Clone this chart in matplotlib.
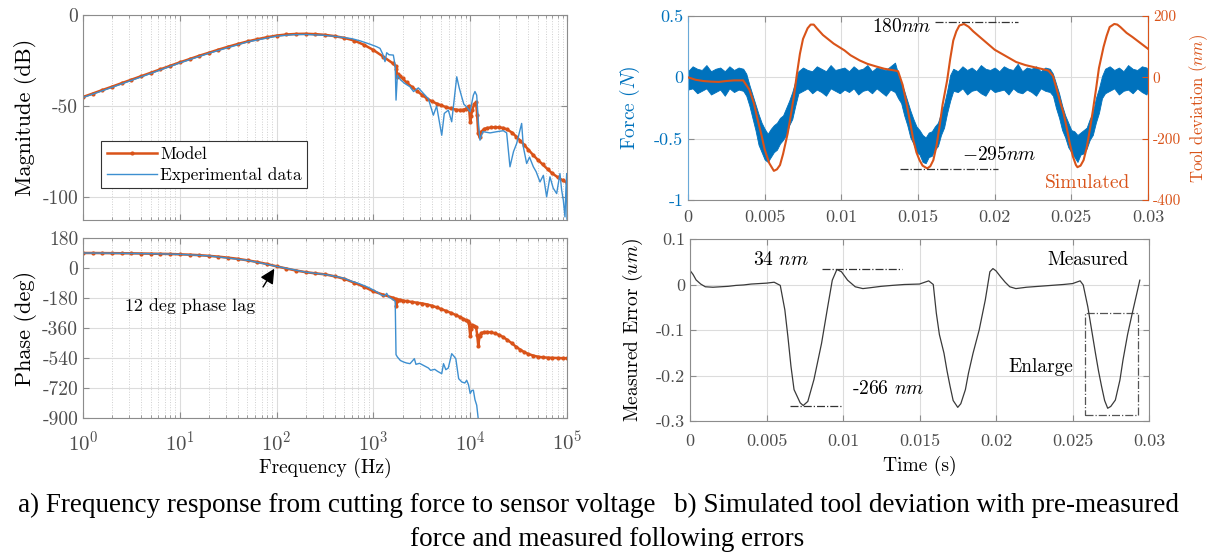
import matplotlib
matplotlib.use('Agg')

import matplotlib.pyplot as plt
from matplotlib.patches import Rectangle

# ---- colours / fonts
blue = '#0072BD'
blue_light = '#3d8fd0'
orange = '#D95319'
grey = '#4d4d4d'
spine_grey = '#8c8c8c'

plt.rcParams['font.family'] = 'cmr10'
plt.rcParams['mathtext.fontset'] = 'cm'
plt.rcParams['axes.unicode_minus'] = False

# ---- a) bode data: model (orange) and experiment (blue)
model_f = [1, 1.26, 1.58, 2, 2.51, 3.16, 3.98, 5.01, 6.31, 7.94,
           10, 12.6, 15.8, 20, 25.1, 31.6, 39.8, 50.1, 63.1, 79.4,
           100, 126, 158, 200, 251, 316, 398, 501, 631, 794,
           1000, 1259, 1585,
           1700, 1730, 1760, 1800, 1900, 2000, 2200, 2500, 2800, 3200,
           3600, 4000, 4500, 5000, 5600, 6300, 7100, 7900, 8500, 9000,
           9400, 9700, 10000, 10200, 10500, 11000, 11500, 11800, 12100, 12500,
           13000, 14000, 15000, 16500, 18000, 20000, 22000, 24000, 27000, 30000,
           33000, 36000, 40000, 45000, 50000, 56000, 63000, 70000, 80000, 90000,
           100000]
model_mag = [-45.0, -43.1, -41.2, -39.3, -37.4, -35.5, -33.6, -31.7, -29.8, -27.9,
             -26.0, -24.2, -22.4, -20.7, -19.0, -17.4, -15.9, -14.5, -13.3, -12.2,
             -11.3, -10.7, -10.4, -10.3, -10.5, -10.9, -11.6, -12.6, -14.0, -16.3,
             -19.2, -22.8, -26.5,
             -28.0, -29.5, -34.0, -32.5, -33.5, -34.8, -37.0, -39.5, -41.5, -44.0,
             -46.0, -47.3, -48.6, -49.6, -50.5, -51.3, -51.9, -52.2, -52.0, -51.5,
             -50.5, -50.0, -58.5, -55.5, -52.0, -49.0, -48.0, -55.0, -65.0, -67.0,
             -64.0, -62.5, -62.0, -61.7, -61.6, -61.7, -62.0, -62.8, -64.5, -66.8,
             -69.0, -71.2, -74.0, -77.0, -79.5, -82.0, -84.6, -86.8, -89.0, -90.7,
             -92.0]
model_phase = [90, 90, 89.5, 89, 88.5, 88, 87, 86, 85, 84,
               82, 80, 77, 73, 68, 62, 55, 46, 36, 24,
               10, -3, -15, -25, -32, -38, -50, -65, -88, -112,
               -140, -160, -178,
               -185, -228, -195, -190, -192, -195, -199, -204, -208, -213,
               -219, -226, -236, -246, -257, -269, -282, -295, -305, -313,
               -320, -330, -405, -365, -342, -348, -355, -400, -465, -410,
               -390, -385, -384, -386, -392, -402, -415, -430, -452, -474,
               -490, -504, -516, -526, -532, -536, -538, -539, -540, -541,
               -541]

exp_f = [1, 2, 5, 10, 20, 50, 100, 150, 200, 300, 400, 500, 600, 730, 920,
         1080, 1170, 1250, 1318, 1372, 1450, 1607, 1680, 1713, 1770, 1900,
         2100, 2390, 2600, 2913, 3280, 3700, 4160, 4500, 5080, 5400, 5940,
         6440, 7260, 7700, 8170, 8600, 9200, 9960, 10780, 11200, 11670, 12200,
         12620, 13500, 16020, 19000, 21990, 23800, 25760, 28000, 30200, 34000,
         35400, 38300, 41000, 44900, 48000, 52600, 57000, 61600, 66700, 72000,
         78200, 84600, 88000, 91600, 95300, 97500, 99300, 100000]
exp_mag = [-45.3, -39.7, -32.1, -26.3, -21.0, -14.8, -11.6, -10.8, -10.7, -11.1,
           -11.7, -12.4, -13.0, -14.2, -16.0, -17.4, -18.3, -21.5, -25.6, -20.7,
           -21.8, -22.0, -28.0, -46.7, -33.0, -35.5, -37.5, -39.4, -42.0, -40.0,
           -43.0, -46.0, -55.0, -50.0, -66.0, -54.0, -52.2, -58.6, -33.9, -40.0,
           -44.9, -49.0, -50.4, -53.1, -44.0, -42.0, -44.0, -60.0, -68.7, -64.0,
           -64.7, -64.0, -63.5, -64.7, -83.3, -75.0, -70.5, -59.5, -72.4, -81.5,
           -78.0, -83.3, -86.0, -91.6, -88.0, -99.8, -88.8, -95.0, -98.0, -87.0,
           -96.0, -101.6, -110.8, -95.0, -87.0, -112.0]

exp_pf = [1, 2, 5, 10, 20, 50, 100, 200, 300, 400, 500, 600, 700, 900, 1100,
          1200, 1300, 1372, 1450, 1600, 1680, 1713, 1770, 1900, 2050, 2200,
          2390, 2650, 2750, 3000, 3280, 3700, 3900, 4300, 4600, 5080, 5300,
          5600, 5940, 6440, 6800, 7100, 7600, 8200, 8800, 9200, 9600, 10000,
          10400, 10780, 11200, 11670, 12100, 12400]
exp_phase = [90, 89, 86, 82, 73, 46, 10, -25, -37, -49, -62, -80, -92, -118, -145,
             -162, -168, -152, -175, -190, -200, -520, -534, -555, -564, -570,
             -574, -544, -578, -572, -584, -600, -614, -608, -620, -634, -574,
             -610, -600, -514, -530, -544, -664, -684, -690, -674, -700, -753,
             -735, -733, -790, -823, -903, -1000]

freq_ticks = [1, 10, 100, 1000, 10000, 100000]
mag_ticks = [0, -50, -100]
mag_labels = ['0', '-50', '-100']
phase_ticks = [180, 0, -180, -360, -540, -720, -900]
phase_labels = ['180', '0', '-180', '-360', '-540', '-720', '-900']

# ---- b) time data (force band read as upper / lower envelope)
force_t = [0.0000, 0.0003, 0.0006, 0.0009, 0.0012, 0.0015, 0.0018, 0.0021, 0.0024, 0.0027,
           0.0030, 0.0033, 0.0036, 0.0038, 0.0040, 0.0042, 0.0044, 0.0046, 0.0048, 0.0050,
           0.0052, 0.0054, 0.0056, 0.0058, 0.0060, 0.0062, 0.0064, 0.0066, 0.0068, 0.0070,
           0.0072, 0.0075, 0.0078, 0.0081, 0.0084, 0.0087, 0.0090, 0.0093, 0.0096, 0.0099,
           0.0102, 0.0105, 0.0108, 0.0111, 0.0114, 0.0117, 0.0120, 0.0123, 0.0126, 0.0129,
           0.0132, 0.0135, 0.0137, 0.0139, 0.0141, 0.0143, 0.0145, 0.0147, 0.0149, 0.0151,
           0.0153, 0.0155, 0.0157, 0.0159, 0.0161, 0.0163, 0.0165, 0.0167, 0.0169, 0.0171,
           0.0173, 0.0176, 0.0179, 0.0182, 0.0185, 0.0188, 0.0191, 0.0194, 0.0197, 0.0200,
           0.0203, 0.0206, 0.0209, 0.0212, 0.0215, 0.0218, 0.0221, 0.0224, 0.0227, 0.0230,
           0.0233, 0.0236, 0.0238, 0.0240, 0.0242, 0.0244, 0.0246, 0.0248, 0.0250, 0.0252,
           0.0254, 0.0256, 0.0258, 0.0260, 0.0262, 0.0264, 0.0266, 0.0268, 0.0270, 0.0272,
           0.0275, 0.0278, 0.0281, 0.0284, 0.0287, 0.0290, 0.0293, 0.0296, 0.0299, 0.0300]
force_hi = [0.05, 0.09, 0.07, 0.06, 0.10, 0.05, 0.07, 0.08, 0.05, 0.09,
            0.06, 0.08, 0.07, 0.03, -0.06, -0.14, -0.22, -0.30, -0.37, -0.42,
            -0.46, -0.42, -0.39, -0.37, -0.33, -0.31, -0.25, -0.19, -0.12, -0.03,
            0.05, 0.08, 0.06, 0.05, 0.09, 0.07, 0.05, 0.10, 0.06, 0.07,
            0.08, 0.05, 0.09, 0.06, 0.07, 0.10, 0.05, 0.08, 0.07, 0.06,
            0.09, 0.12, 0.03, -0.04, -0.11, -0.19, -0.27, -0.34, -0.40, -0.43,
            -0.47, -0.49, -0.45, -0.44, -0.40, -0.37, -0.29, -0.22, -0.11, 0.02,
            0.07, 0.05, 0.09, 0.06, 0.08, 0.05, 0.10, 0.07, 0.06, 0.08,
            0.05, 0.09, 0.07, 0.06, 0.11, 0.05, 0.08, 0.07, 0.09, 0.05,
            0.08, 0.07, 0.03, -0.05, -0.13, -0.23, -0.31, -0.37, -0.43, -0.44,
            -0.47, -0.45, -0.43, -0.41, -0.34, -0.29, -0.17, -0.09, 0.01, 0.07,
            0.09, 0.06, 0.08, 0.05, 0.10, 0.07, 0.06, 0.09, 0.08, 0.06]
force_lo = [-0.10, -0.09, -0.13, -0.11, -0.09, -0.14, -0.12, -0.10, -0.15, -0.09,
            -0.12, -0.10, -0.11, -0.15, -0.23, -0.33, -0.43, -0.55, -0.61, -0.67,
            -0.69, -0.65, -0.61, -0.59, -0.54, -0.51, -0.47, -0.39, -0.34, -0.23,
            -0.13, -0.11, -0.09, -0.13, -0.10, -0.12, -0.15, -0.09, -0.11, -0.13,
            -0.10, -0.12, -0.09, -0.14, -0.11, -0.10, -0.13, -0.09, -0.12, -0.15,
            -0.10, -0.12, -0.17, -0.21, -0.31, -0.39, -0.49, -0.54, -0.61, -0.63,
            -0.69, -0.70, -0.65, -0.64, -0.59, -0.56, -0.47, -0.41, -0.29, -0.19,
            -0.11, -0.12, -0.09, -0.14, -0.11, -0.10, -0.13, -0.15, -0.09, -0.12,
            -0.11, -0.10, -0.14, -0.09, -0.12, -0.13, -0.10, -0.12, -0.15, -0.09,
            -0.11, -0.12, -0.15, -0.25, -0.33, -0.43, -0.49, -0.57, -0.61, -0.65,
            -0.69, -0.63, -0.62, -0.58, -0.51, -0.47, -0.37, -0.29, -0.17, -0.13,
            -0.11, -0.09, -0.14, -0.11, -0.10, -0.13, -0.09, -0.12, -0.14, -0.10]

dev_t = [0.0000, 0.0005, 0.0010, 0.0015, 0.0020, 0.0025, 0.0030, 0.0036, 0.0040, 0.0043,
         0.0045, 0.0048, 0.0050, 0.0053, 0.0056, 0.0058, 0.0060, 0.0062, 0.0065, 0.0067,
         0.0069, 0.0071, 0.0073, 0.0075, 0.0078, 0.0080, 0.0082, 0.0084, 0.0088, 0.0095,
         0.0102, 0.0106, 0.0112, 0.0117, 0.0123, 0.0128, 0.0134, 0.0137, 0.0140, 0.0143,
         0.0145, 0.0147, 0.0149, 0.0151, 0.0153, 0.0156, 0.0158, 0.0160, 0.0162, 0.0164,
         0.0166, 0.0169, 0.0171, 0.0173, 0.0175, 0.0177, 0.0180, 0.0183, 0.0186, 0.0193,
         0.0200, 0.0207, 0.0214, 0.0220, 0.0225, 0.0231, 0.0235, 0.0238, 0.0240, 0.0243,
         0.0245, 0.0247, 0.0249, 0.0251, 0.0253, 0.0254, 0.0256, 0.0258, 0.0260, 0.0262,
         0.0264, 0.0266, 0.0268, 0.0271, 0.0273, 0.0275, 0.0278, 0.0280, 0.0282, 0.0286,
         0.0290, 0.0295, 0.0300]
dev_nm = [0, -8, -12, -14, -15, -12, -10, -10, -40, -85,
          -129, -190, -235, -280, -305, -300, -286, -250, -183, -125,
          -64, 10, 77, 125, 160, 172, 172, 160, 138, 110,
          88, 72, 55, 44, 35, 28, 23, 20, -25, -97,
          -150, -205, -245, -270, -288, -297, -290, -270, -225, -162,
          -90, -10, 60, 120, 150, 169, 174, 165, 150, 120,
          90, 70, 50, 40, 34, 27, 22, 5, -31, -85,
          -118, -165, -216, -258, -286, -293, -288, -270, -230, -173,
          -110, -42, 30, 99, 135, 164, 174, 172, 164, 145,
          131, 112, 93]

err_t = [0.0000, 0.0002, 0.0004, 0.0007, 0.0010, 0.0015, 0.0020, 0.0025, 0.0030, 0.0035,
         0.0040, 0.0045, 0.0050, 0.0055, 0.0059, 0.0062, 0.0064, 0.0066, 0.0068, 0.0072,
         0.0074, 0.0077, 0.0081, 0.0086, 0.0090, 0.0093, 0.0096, 0.0099, 0.0103, 0.0108,
         0.0113, 0.0118, 0.0125, 0.0132, 0.0140, 0.0150, 0.0156, 0.0159, 0.0161, 0.0163,
         0.0166, 0.0168, 0.0170, 0.0172, 0.0175, 0.0177, 0.0180, 0.0182, 0.0185, 0.0189,
         0.0193, 0.0196, 0.0198, 0.0200, 0.0203, 0.0206, 0.0209, 0.0213, 0.0220, 0.0228,
         0.0236, 0.0244, 0.0250, 0.0255, 0.0257, 0.0260, 0.0263, 0.0265, 0.0267, 0.0269,
         0.0271, 0.0273, 0.0275, 0.0278, 0.0281, 0.0283, 0.0286, 0.0289, 0.0292, 0.0294]
err_v = [0.031, 0.022, 0.010, 0.001, -0.005, -0.006, -0.005, -0.004, -0.002, -0.001,
         0.001, 0.002, 0.003, 0.005, -0.002, -0.056, -0.115, -0.180, -0.231, -0.260,
         -0.266, -0.257, -0.209, -0.129, -0.049, 0.0095, 0.033, 0.028, 0.0095, -0.005,
         -0.009, -0.007, -0.004, -0.002, 0.000, 0.001, 0.008, 0.000, -0.063, -0.110,
         -0.151, -0.190, -0.224, -0.255, -0.270, -0.262, -0.231, -0.195, -0.151, -0.100,
         -0.034, 0.028, 0.035, 0.030, 0.017, 0.005, -0.005, -0.009, -0.006, -0.004,
         -0.002, 0.000, 0.002, 0.008, -0.001, -0.049, -0.110, -0.151, -0.190, -0.224,
         -0.255, -0.272, -0.268, -0.254, -0.210, -0.166, -0.110, -0.064, -0.020, 0.0095]

time_ticks = [0, 0.005, 0.01, 0.015, 0.02, 0.025, 0.03]
time_labels = ['0', '0.005', '0.01', '0.015', '0.02', '0.025', '0.03']
force_ticks = [0.5, 0, -0.5, -1]
force_labels = ['0.5', '0', '-0.5', '-1']
dev_ticks = [200, 0, -200, -400]
dev_labels = ['200', '0', '-200', '-400']
err_ticks = [0.1, 0, -0.1, -0.2, -0.3]
err_labels = ['0.1', '0', '-0.1', '-0.2', '-0.3']

W, H = 1208, 556


def box(l, t, r, b):
    return [l / W, 1 - b / H, (r - l) / W, (b - t) / H]


def style(ax, size=13):
    for s in ax.spines.values():
        s.set_color(spine_grey)
        s.set_linewidth(0.8)
    ax.tick_params(which='both', direction='in', colors=spine_grey,
                   labelcolor=grey, labelsize=size, top=True, right=True)
    ax.tick_params(which='major', length=4)
    ax.tick_params(which='minor', length=2)
    ax.grid(True, which='major', color='#dcdcdc', lw=0.8)
    ax.set_axisbelow(True)


fig = plt.figure(figsize=(W / 100, H / 100), dpi=100)

# ---- magnitude
ax1 = fig.add_axes(box(83, 15, 567, 220))
ax1.semilogx(model_f, model_mag, '.-', color=orange, lw=1.8, ms=4, label='Model')
ax1.semilogx(exp_f, exp_mag, color=blue_light, lw=1.0, label='Experimental data')
ax1.set_xlim(1, 1e5)
ax1.set_ylim(-112.5, 0)
ax1.set_xticks(freq_ticks)
ax1.set_xticklabels([])
ax1.set_yticks(mag_ticks)
ax1.set_yticklabels(mag_labels)
style(ax1, 14)
ax1.grid(True, which='minor', axis='x', color='#cfcfcf', ls=':', lw=0.7)
ax1.set_ylabel('Magnitude (dB)', fontsize=16)
ax1.yaxis.set_label_coords(-0.095, 0.5)
leg = ax1.legend(loc='upper left', bbox_to_anchor=(0.038, 0.385), fontsize=12.5,
                 frameon=True, fancybox=False, edgecolor='#333333', framealpha=1,
                 handlelength=2.9, borderpad=0.3, labelspacing=0.3, handletextpad=0.2,
                 borderaxespad=0)
leg.get_frame().set_linewidth(0.8)

# ---- phase
ax2 = fig.add_axes(box(83, 238, 567, 418))
ax2.semilogx(model_f, model_phase, '.-', color=orange, lw=1.8, ms=4)
ax2.semilogx(exp_pf, exp_phase, color=blue_light, lw=1.0)
ax2.set_xlim(1, 1e5)
ax2.set_ylim(-900, 180)
ax2.set_xticks(freq_ticks)
ax2.set_yticks(phase_ticks)
ax2.set_yticklabels(phase_labels)
style(ax2, 14)
ax2.tick_params(axis='x', pad=9, labelsize=15)
ax2.grid(True, which='minor', axis='x', color='#cfcfcf', ls=':', lw=0.7)
ax2.set_ylabel('Phase (deg)', fontsize=16)
ax2.yaxis.set_label_coords(-0.095, 0.5)
ax2.set_xlabel('Frequency (Hz)', fontsize=14)
ax2.xaxis.set_label_coords(0.5, -0.22)
ax2.text(2.7, -228, '12 deg phase lag', fontsize=13, va='center', ha='left')
ax2.annotate('', xy=(98, 10), xytext=(70, -128),
             arrowprops=dict(arrowstyle='-|>', color='k', lw=1, mutation_scale=22))

# ---- force / simulated tool deviation
ax3 = fig.add_axes(box(688, 16, 1148, 200))
ax3.fill_between(force_t, force_lo, force_hi, color=blue, lw=0.6, edgecolor=blue)
ax3.set_xlim(0, 0.03)
ax3.set_ylim(-1, 0.5)
ax3.set_xticks(time_ticks)
ax3.set_xticklabels(time_labels)
ax3.set_yticks(force_ticks)
ax3.set_yticklabels(force_labels)
style(ax3, 13)
ax3.tick_params(axis='y', labelcolor=blue, right=False)
ax3.tick_params(axis='x', pad=7)
ax3.spines['left'].set_color('#6aa9d8')
ax3.set_ylabel('Force ($N$)', fontsize=14, color=blue)
ax3.yaxis.set_label_coords(-0.1, 0.5)

ax4 = ax3.twinx()
ax4.plot(dev_t, dev_nm, color=orange, lw=1.5)
ax4.set_ylim(-400, 200)
ax4.set_yticks(dev_ticks)
ax4.set_yticklabels(dev_labels)
for s in ax4.spines.values():
    s.set_visible(False)
ax4.spines['right'].set_visible(True)
ax4.spines['right'].set_color(orange)
ax4.tick_params(axis='y', direction='in', colors=orange, labelcolor=orange, labelsize=11, length=4)
ax4.set_ylabel('Tool deviation ($nm$)', fontsize=12, color=orange)
ax4.yaxis.set_label_coords(1.085, 0.5)
ax4.plot([0.0161, 0.0215], [180, 180], color='#333333', lw=0.9, ls='-.')
ax4.plot([0.01383, 0.0202], [-298, -298], color='#333333', lw=0.9, ls='-.')
ax4.text(0.0159, 164, '$180nm$', fontsize=14, ha='right', va='center')
ax4.text(0.01787, -253, '$-295nm$', fontsize=14, ha='left', va='center')
ax4.text(0.02328, -345, 'Simulated', fontsize=14, ha='left', va='center', color=orange)

# ---- measured following error
ax5 = fig.add_axes(box(690, 239, 1149, 421))
ax5.plot(err_t, err_v, color='#3a3a3a', lw=0.9)
ax5.set_xlim(0, 0.03)
ax5.set_ylim(-0.3, 0.1)
ax5.set_xticks(time_ticks)
ax5.set_xticklabels(time_labels)
ax5.set_yticks(err_ticks)
ax5.set_yticklabels(err_labels)
style(ax5, 13)
ax5.tick_params(axis='x', pad=9)
ax5.set_ylabel('Measured Error ($um$)', fontsize=14)
ax5.yaxis.set_label_coords(-0.098, 0.5)
ax5.set_xlabel('Time (s)', fontsize=14)
ax5.xaxis.set_label_coords(0.5, -0.19)
ax5.plot([0.00863, 0.01386], [0.034, 0.034], color='#333333', lw=0.9, ls='-.')
ax5.plot([0.00654, 0.0100], [-0.266, -0.266], color='#333333', lw=0.9, ls='-.')
ax5.text(0.00412, 0.054, '34 $nm$', fontsize=14, va='center')
ax5.text(0.01059, -0.229, '-266 $nm$', fontsize=14, va='center')
ax5.text(0.02333, 0.054, 'Measured', fontsize=14, va='center')
ax5.text(0.02078, -0.181, 'Enlarge', fontsize=14, va='center')
ax5.add_patch(Rectangle((0.02582, -0.286), 0.00346, 0.2225, fill=False,
                        ls='-.', lw=0.9, edgecolor='#555555'))

# ---- captions
cap = dict(family='Liberation Serif', fontsize=19.5, ha='center', va='center')
fig.text(337 / W, 1 - 505 / H, 'a) Frequency response from cutting force to sensor voltage', **cap)
fig.text(926 / W, 1 - 505 / H, 'b) Simulated tool deviation with pre-measured', **cap)
fig.text(607 / W, 1 - 540 / H, 'force and measured following errors', **cap)

fig.savefig('out.png', dpi=100)
